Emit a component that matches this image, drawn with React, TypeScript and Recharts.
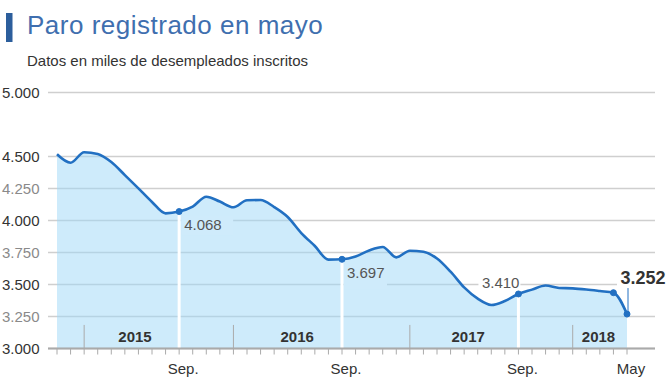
import React from "react";
import {
  AreaChart,
  Area,
  XAxis,
  YAxis,
  CartesianGrid,
  ReferenceLine,
  ReferenceDot,
} from "recharts";

// Meses (nov 2014 - may 2018)
const months = [
  "nov 2014", "dic 2014",
  "ene 2015", "feb 2015", "mar 2015", "abr 2015", "may 2015", "jun 2015",
  "jul 2015", "ago 2015", "sep 2015", "oct 2015", "nov 2015", "dic 2015",
  "ene 2016", "feb 2016", "mar 2016", "abr 2016", "may 2016", "jun 2016",
  "jul 2016", "ago 2016", "sep 2016", "oct 2016", "nov 2016", "dic 2016",
  "ene 2017", "feb 2017", "mar 2017", "abr 2017", "may 2017", "jun 2017",
  "jul 2017", "ago 2017", "sep 2017", "oct 2017", "nov 2017", "dic 2017",
  "ene 2018", "feb 2018", "mar 2018", "abr 2018", "may 2018",
];

// Miles de desempleados inscritos
const paro = [
  4517, 4451,
  4533, 4520, 4457, 4355, 4251, 4145, 4056, 4070, 4109, 4186, 4148, 4103,
  4158, 4160, 4105, 4027, 3902, 3801, 3694, 3697, 3719, 3766, 3793, 3712,
  3764, 3756, 3703, 3600, 3477, 3389, 3340, 3371, 3426, 3460, 3492, 3473,
  3470, 3461, 3449, 3436, 3269,
];

const yTicks = [3000, 3250, 3500, 3750, 4000, 4250, 4500, 5000];

const xTickMonths = ["ago 2015", "ago 2016", "sep 2017", "may 2018"];
const xTickLabels = ["Sep.", "Sep.", "Sep.", "May"];

const yearLabels = ["2015", "2016", "2017", "2018"];
const yearLabelPos = [5.75, 17.7, 30.3, 39.9]; // in month-index units
const yearSeparatorMonths = ["ene 2015", "dic 2015", "ene 2017", "ene 2018"];
const separatorTop = 3184;

const annotationMonths = ["ago 2015", "ago 2016", "sep 2017", "may 2018"];
const annotationTexts = ["4.068", "3.697", "3.410", "3.252"];
const dotMonths = ["ago 2015", "ago 2016", "sep 2017", "abr 2018", "may 2018"];

const data = months.map((m, i) => ({ i, month: m, paro: paro[i] }));

const FONT = "'Liberation Sans', Arial, Helvetica, sans-serif";
const LINE = "#2270c2";
const AREA_BOX = "#cfebfb";

const fmt = (v: number) => {
  const th = Math.floor(v / 1000);
  const rest = String(v % 1000).padStart(3, "0");
  return `${th}.${rest}`;
};

const YTick = (props: any) => {
  const { y, payload } = props;
  const major = payload.value % 500 === 0;
  return (
    <text
      x={2}
      y={y}
      dy="0.36em"
      textAnchor="start"
      fontSize={15}
      fontFamily={FONT}
      fill={major ? "#333" : "#8a8a8a"}
    >
      {fmt(payload.value)}
    </text>
  );
};

const XTick = (props: any) => {
  const { x, y, payload } = props;
  const k = xTickMonths.indexOf(months[payload.value]);
  if (k < 0) return <g />;
  return (
    <text
      x={x + 4}
      y={y + 17}
      textAnchor="middle"
      fontSize={15}
      fontFamily={FONT}
      fill="#333"
    >
      {xTickLabels[k]}
    </text>
  );
};

const makeAnnotShape = (k: number) => (props: any) => {
  const { cx, cy } = props;
  const dot = <circle cx={cx} cy={cy} r={3} fill={LINE} stroke={LINE} />;
  if (k < 0) return <g>{dot}</g>;
  const text = annotationTexts[k];
  if (k === 0 || k === 1) {
    const base = cy + 18.5;
    return (
      <g>
        <rect x={cx + 2} y={base - 14} width={k === 0 ? 52 : 43} height={k === 0 ? 19 : 25} fill={AREA_BOX} />
        <text x={cx + 5} y={base} fontSize={15} fontFamily={FONT} fill="#555">
          {text}
        </text>
        {dot}
      </g>
    );
  }
  if (k === 2) {
    const base = cy - 6;
    return (
      <g>
        <rect x={cx - 40} y={base - 14} width={42} height={17} fill="#fff" />
        <text x={cx + 1} y={base} textAnchor="end" fontSize={15} fontFamily={FONT} fill="#555">
          {text}
        </text>
        {dot}
      </g>
    );
  }
  const base = cy - 30;
  return (
    <g>
      <rect x={cx - 10} y={base - 15} width={52} height={18} fill="#fff" />
      <line x1={cx + 1} x2={cx + 1} y1={cy - 26} y2={cy - 2} stroke={LINE} strokeWidth={1} />
      <text x={cx - 6.5} y={base} fontSize={18} fontWeight="bold" fontFamily={FONT} fill="#333">
        {text}
      </text>
      {dot}
    </g>
  );
};

const yearShape = (k: number) => (props: any) => {
  const { cx, cy } = props;
  return (
    <text
      x={cx}
      y={cy - 7}
      textAnchor="middle"
      fontSize={15}
      fontWeight="bold"
      fontFamily={FONT}
      fill="#333"
    >
      {yearLabels[k]}
    </text>
  );
};

export default function App() {
  return (
    <div style={{ position: "absolute", left: 0, top: 0, width: 667, height: 392, background: "#fff" }}>
      <svg width={667} height={80} style={{ position: "absolute", left: 0, top: 0 }}>
        <rect x={6} y={13} width={6.5} height={29} fill="#2c5e9c" />
        <text x={27} y={34} fontSize={26} letterSpacing={0.5} fontFamily={FONT} fill="#3f6faf">
          Paro registrado en mayo
        </text>
        <text x={27} y={66} fontSize={15} fontFamily={FONT} fill="#333">
          Datos en miles de desempleados inscritos
        </text>
      </svg>
      <div style={{ position: "absolute", left: 0, top: 0 }}>
        <AreaChart
          width={667}
          height={392}
          data={data}
          margin={{ top: 92.5, right: 12, bottom: 13.5, left: 0 }}
        >
          <CartesianGrid vertical={false} stroke="#cfcfcf" strokeWidth={1.5} />
          <YAxis
            type="number"
            domain={[3000, 5000]}
            ticks={yTicks}
            width={48}
            axisLine={false}
            tickLine={false}
            tick={YTick}
            interval={0}
          />
          <XAxis
            type="number"
            dataKey="i"
            domain={[0, months.length - 1]}
            ticks={months.map((_, i) => i)}
            interval={0}
            height={30}
            padding={{ left: 9, right: 28 }}
            axisLine={{ stroke: "#aaa", strokeWidth: 2 }}
            tickLine={{ stroke: "#aaa", strokeWidth: 1 }}
            tickSize={6}
            tick={XTick}
          />
          <Area
            type="monotone"
            dataKey="paro"
            stroke={LINE}
            strokeWidth={2.6}
            fill="#9ed7f7"
            fillOpacity={0.5}
            isAnimationActive={false}
            dot={false}
            activeDot={false}
          />
          {annotationMonths.slice(0, 3).map((m) => {
            const idx = months.indexOf(m);
            return (
              <ReferenceLine
                key={"w" + m}
                segment={[
                  { x: idx, y: 3000 },
                  { x: idx, y: paro[idx] },
                ]}
                stroke="#fff"
                strokeWidth={3}
              />
            );
          })}
          {yearSeparatorMonths.map((m) => {
            const idx = months.indexOf(m);
            return (
              <ReferenceLine
                key={"s" + m}
                segment={[
                  { x: idx, y: 3000 },
                  { x: idx, y: separatorTop },
                ]}
                stroke="#aaa"
                strokeWidth={1}
              />
            );
          })}
          {yearLabels.map((yl, k) => (
            <ReferenceDot
              key={"y" + yl}
              x={yearLabelPos[k]}
              y={3000}
              r={0}
              shape={yearShape(k)}
            />
          ))}
          {dotMonths.map((m) => {
            const idx = months.indexOf(m);
            const k = annotationMonths.indexOf(m);
            return (
              <ReferenceDot
                key={"d" + m}
                x={idx}
                y={paro[idx]}
                r={3}
                shape={makeAnnotShape(k)}
              />
            );
          })}
        </AreaChart>
      </div>
    </div>
  );
}
